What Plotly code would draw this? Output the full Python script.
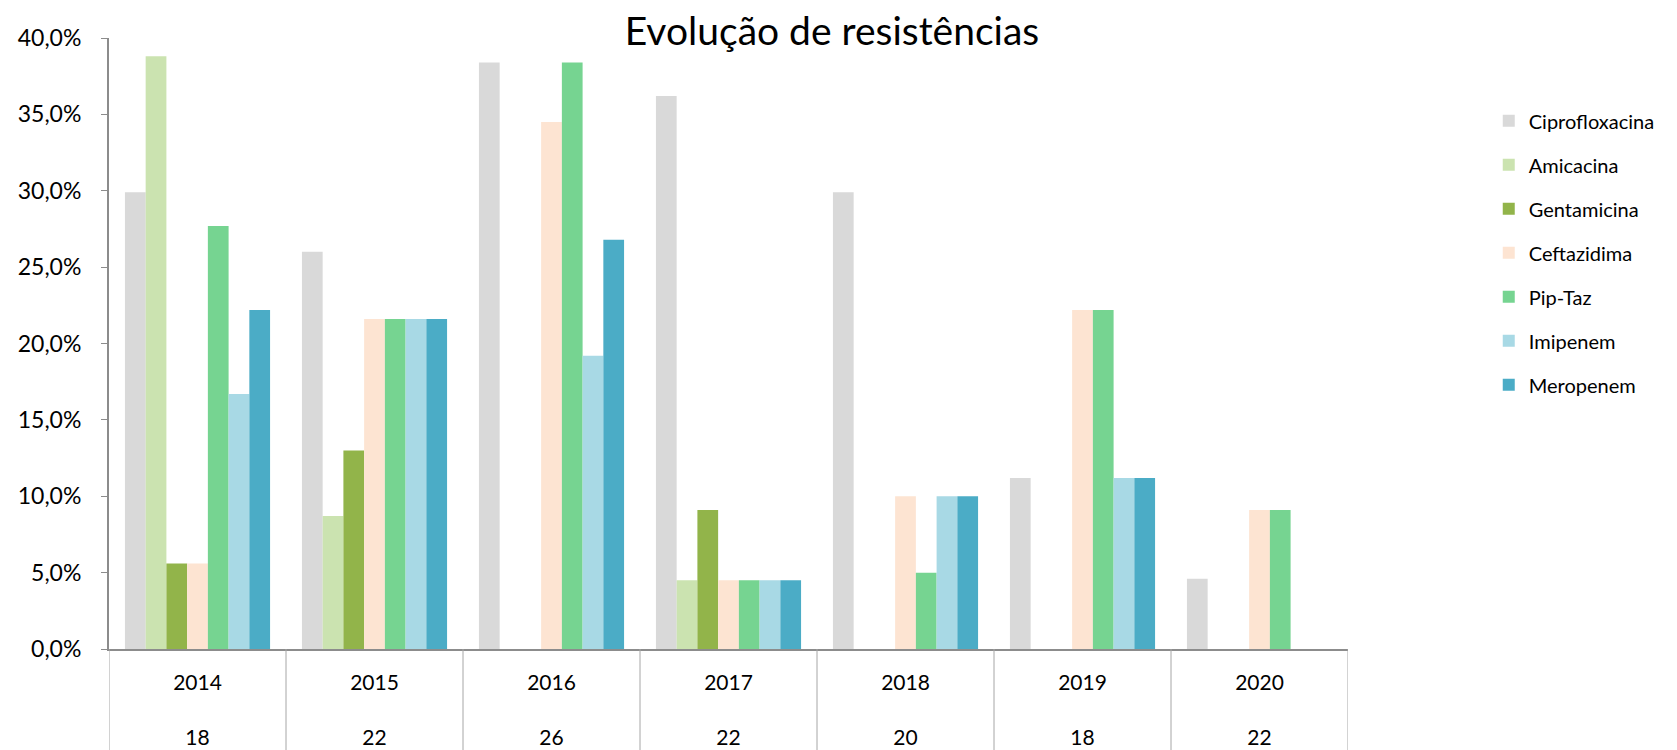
import plotly.graph_objects as go

years = ["2014", "2015", "2016", "2017", "2018", "2019", "2020"]
counts = ["18", "22", "26", "22", "20", "18", "22"]

ciprofloxacina = [29.9, 26.0, 38.4, 36.2, 29.9, 11.2, 4.6]
amicacina      = [38.8, 8.7, 0.0, 4.5, 0.0, 0.0, 0.0]
gentamicina    = [5.6, 13.0, 0.0, 9.1, 0.0, 0.0, 0.0]
ceftazidima    = [5.6, 21.6, 34.5, 4.5, 10.0, 22.2, 9.1]
pip_taz        = [27.7, 21.6, 38.4, 4.5, 5.0, 22.2, 9.1]
imipenem       = [16.7, 21.6, 19.2, 4.5, 10.0, 11.2, 0.0]
meropenem      = [22.2, 21.6, 26.8, 4.5, 10.0, 11.2, 0.0]

series = [
    ("Ciprofloxacina", ciprofloxacina, "#D9D9D9"),
    ("Amicacina", amicacina, "#CBE3B0"),
    ("Gentamicina", gentamicina, "#92B44A"),
    ("Ceftazidima", ceftazidima, "#FDE4D2"),
    ("Pip-Taz", pip_taz, "#76D491"),
    ("Imipenem", imipenem, "#A8D9E5"),
    ("Meropenem", meropenem, "#4BACC6"),
]

FONT = "Lato, Carlito, Calibri, sans-serif"

fig = go.Figure()
xs = list(range(len(years)))
for i, (name, vals, color) in enumerate(series):
    fig.add_trace(go.Bar(
        x=xs, y=vals, name=name, legendgroup=name,
        marker=dict(color=color, line=dict(width=0)),
        hovertemplate=name + ": %{y:.1f}%<extra></extra>",
    ))

ticktext = [f"{y}<br><br>{c}" for y, c in zip(years, counts)]

# page body adds an 8px margin, so the figure is 8px smaller on each axis
fig.update_layout(
    width=1669, height=742,
    margin=dict(l=101, r=329, t=30, b=101),
    paper_bgcolor="white", plot_bgcolor="white",
    separators=",.",
    barmode="group", bargap=0.18, bargroupgap=0,
    font=dict(family=FONT, size=21, color="#000000"),
    title=dict(text="Evolução de resistências", x=0.5835, xref="paper", xanchor="center",
               y=0.968, yref="container", yanchor="middle",
               font=dict(family=FONT, size=39, color="#000000")),
    legend=dict(x=1.1136, xanchor="left", y=0.8965, yanchor="top",
                font=dict(family=FONT, size=20, color="#000000"),
                tracegroupgap=15, itemclick=False),
    xaxis=dict(range=[-0.5, 6.5], tickmode="array", tickvals=xs, ticktext=ticktext,
               showline=True, linecolor="#8C8C8C", linewidth=2, ticks="",
               showgrid=False, zeroline=False, ticklabelstandoff=14,
               automargin=False,
               tickfont=dict(family=FONT, size=21)),
    yaxis=dict(range=[0, 40], dtick=5, tickformat=".1f", ticksuffix="%",
               showline=True, linecolor="#8C8C8C", linewidth=2,
               ticks="outside", ticklen=6, tickcolor="#8C8C8C",
               showgrid=False, zeroline=False, ticklabelstandoff=15,
               automargin=False,
               tickfont=dict(family=FONT, size=23)),
)

for k in range(len(years) + 1):
    fig.add_shape(type="line", xref="x", yref="paper",
                  x0=k - 0.5, x1=k - 0.5, y0=0, y1=-0.17,
                  line=dict(color="#A6A6A6", width=1))

fig.write_html("out.html")
